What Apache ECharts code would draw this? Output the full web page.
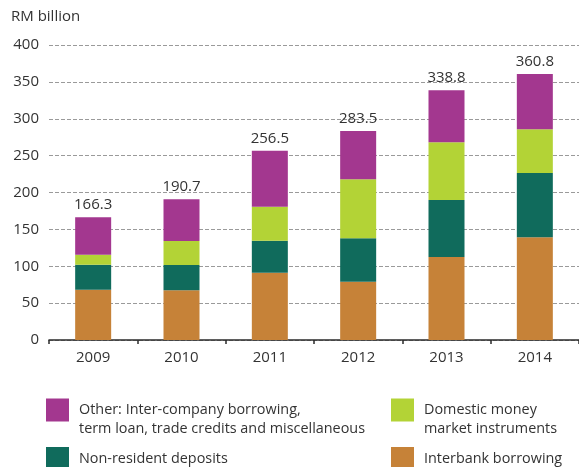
<!DOCTYPE html>
<html>
<head>
<meta charset="utf-8">
<script src="https://cdn.jsdelivr.net/npm/echarts@6/dist/echarts.min.js"></script>
<style>
  html, body { margin: 0; padding: 0; background: #ffffff; }
  #chart { width: 579px; height: 467px; }
</style>
</head>
<body>
<div id="chart"></div>
<script>
// Years on the category axis
const years = ['2009', '2010', '2011', '2012', '2013', '2014'];

// Stack components, RM billion
const interbank = [68.0, 67.5, 91.3, 79.1, 112.5, 139.2];
const nonResident = [34.0, 34.2, 43.4, 58.8, 77.3, 87.2];
const domestic = [13.5, 32.5, 46.1, 80.0, 78.2, 59.2];
const other = [50.8, 56.5, 75.7, 65.6, 70.8, 75.2];

// Totals printed above each stack
const totals = [166.3, 190.7, 256.5, 283.5, 338.8, 360.8];

// Value axis ticks
const yTicks = [0, 50, 100, 150, 200, 250, 300, 350, 400];

const names = {
  other: 'Other: Inter-company borrowing, term loan, trade credits and miscellaneous',
  domestic: 'Domestic money market instruments',
  nonResident: 'Non-resident deposits',
  interbank: 'Interbank borrowing'
};

// Legend wording, split over lines
const legendLines = {};
legendLines[names.other] = ['Other: Inter-company borrowing,', 'term loan, trade credits and miscellaneous'];
legendLines[names.domestic] = ['Domestic money', 'market instruments'];
legendLines[names.nonResident] = ['Non-resident deposits'];
legendLines[names.interbank] = ['Interbank borrowing'];

const colors = {
  interbank: '#c68238',
  nonResident: '#106b5c',
  domestic: '#b3d336',
  other: '#a3378f'
};

const FONT = '"Open Sans", "Noto Sans", sans-serif';
const TEXT = '#333333';
const LEGEND_SIZE = 14.4;

function legendBox(name, left, top) {
  const lines = legendLines[name];
  return {
    data: [name],
    left: left,
    top: top,
    orient: 'vertical',
    padding: 0,
    icon: 'rect',
    itemWidth: 23,
    itemHeight: 23,
    selectedMode: false,
    formatter: function (n) {
      const body = legendLines[n].map(function (l) { return '{t|' + l + '}'; }).join('\n');
      // a spacer line lifts the first text line level with the swatch
      return lines.length > 1 ? '{g| }\n' + body : body;
    },
    textStyle: {
      fontFamily: FONT,
      fontSize: LEGEND_SIZE,
      color: TEXT,
      padding: [0, 0, 0, 5],
      rich: {
        g: { fontSize: 10, lineHeight: 18 },
        t: { fontFamily: FONT, fontSize: LEGEND_SIZE, color: TEXT, lineHeight: 19 }
      }
    }
  };
}

function seriesOf(key, values, withTotals) {
  const s = {
    name: names[key],
    type: 'bar',
    stack: 'debt',
    data: values,
    barWidth: 36,
    itemStyle: { color: colors[key] },
    emphasis: { disabled: true }
  };
  if (withTotals) {
    s.label = {
      show: true,
      position: 'top',
      distance: 5,
      fontFamily: FONT,
      fontSize: 15,
      color: TEXT,
      formatter: function (p) { return totals[p.dataIndex].toFixed(1); }
    };
  }
  return s;
}

const chart = echarts.init(document.getElementById('chart'), null, { renderer: 'canvas' });

chart.setOption({
  animation: false,
  backgroundColor: '#ffffff',
  title: {
    text: 'RM billion',
    left: 11,
    top: 9,
    padding: 0,
    textStyle: { fontFamily: FONT, fontSize: 15, fontWeight: 'normal', color: TEXT }
  },
  grid: { left: 49, top: 45, width: 540, height: 295, containLabel: false },
  legend: [
    legendBox(names.other, 46, 386),
    legendBox(names.domestic, 391, 386),
    legendBox(names.nonResident, 46, 447),
    legendBox(names.interbank, 391, 447)
  ],
  xAxis: {
    type: 'category',
    data: years,
    axisLine: { lineStyle: { color: '#2b2b2b', width: 1.5 } },
    axisTick: { show: true, length: 4, lineStyle: { color: '#2b2b2b', width: 1.5 } },
    axisLabel: { fontFamily: FONT, fontSize: 15, color: TEXT, margin: 10 }
  },
  yAxis: {
    type: 'value',
    min: yTicks[0],
    max: yTicks[yTicks.length - 1],
    interval: yTicks[1] - yTicks[0],
    axisLine: { show: false },
    axisTick: { show: false },
    axisLabel: { fontFamily: FONT, fontSize: 15, color: TEXT, margin: 10 },
    splitLine: { lineStyle: { color: '#9a9a9a', width: 1, type: [4, 2] } }
  },
  series: [
    seriesOf('interbank', interbank, false),
    seriesOf('nonResident', nonResident, false),
    seriesOf('domestic', domestic, false),
    seriesOf('other', other, true)
  ]
});
</script>
</body>
</html>
